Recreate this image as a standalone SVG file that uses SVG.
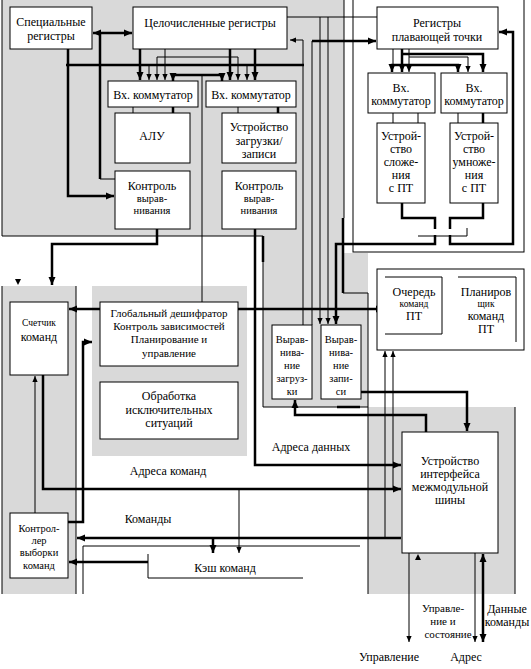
<svg xmlns="http://www.w3.org/2000/svg" width="531" height="669" viewBox="0 0 531 669" font-family="'Liberation Serif', 'Times New Roman', serif">
<style>
.gr{fill:#d9d9d9;stroke:none}
.bx{fill:#fff;stroke:#000;stroke-width:1}
.ln{fill:none;stroke:#000;stroke-width:1}
.tk{fill:none;stroke:#000;stroke-width:2.5}
.ar{marker-end:url(#at)}
.as{marker-start:url(#at)}
.tk.ar{marker-end:url(#ah)}
.tk.as{marker-start:url(#ah)}
text{font-family:"Liberation Serif","Times New Roman",serif;font-size:12px;fill:#000;text-anchor:middle}
.s{font-size:10.5px}
.xs{font-size:9.5px}
.m{font-size:11px}
</style>
<defs>
<marker id="ah" viewBox="0 0 8 8" refX="8" refY="4" markerWidth="8" markerHeight="8" markerUnits="userSpaceOnUse" orient="auto-start-reverse"><path d="M0,0.5 L8,4 L0,7.5 z" fill="#000"/></marker>
<marker id="at" viewBox="0 0 8 8" refX="8" refY="4" markerWidth="6" markerHeight="6" markerUnits="userSpaceOnUse" orient="auto-start-reverse"><path d="M0,0.5 L8,4 L0,7.5 z" fill="#000"/></marker>
</defs>
<rect x="0" y="0" width="531" height="669" fill="#fff"/>
<g id="panels">
<rect class="gr" x="2" y="0" width="342" height="236"/>
<polygon class="gr" points="263,236 344,236 344,253 368,253 368,407 263,407"/>
<rect class="gr" x="2" y="286" width="74" height="308"/>
<rect class="gr" x="92" y="286" width="155" height="170"/>
<rect class="gr" x="368" y="407" width="147" height="187"/>
<rect class="bx" x="353" y="-1" width="171" height="253"/>
<path class="ln" d="M2,0 V236 H263 M344,0 V218 M2,286 V594 M76,286 V594 M515,407 V594 M263,262 V407 H368"/>
</g>
<g id="connectors">
<path class="ln" d="M100,179 H115"/>
<path class="ln ar" d="M303,325 V40 H290"/>
<path class="ln ar" d="M149,65 V80"/>
<path class="ln as ar" d="M157,80 V57 H238 V80"/>
<path class="ln ar" d="M165,49 V80"/>
<path class="ln" d="M202,75 V302"/>
<path class="ln ar" d="M247,65 V80"/>
<path class="ln" d="M133,107 V113 M238,107 V113"/>
<path class="ln" d="M287,17 H377"/>
<path class="ln ar" d="M320,17 V324"/>
<path class="ln ar" d="M328,17 V324"/>
<path class="ln" d="M312,41 V325"/>
<path class="ln" d="M393,49 V65"/>
<path class="ln ar" d="M409,49 V72"/>
<path class="ln ar" d="M409,57 H468 V72"/>
<path class="ln" d="M393,113 V123 M418,113 V123 M458,113 V123"/>
<path class="ln" d="M418,236 H467 V228"/>
<path class="ln" d="M343,293 H368 V594"/>
<path class="ln ar" d="M35,513 V376"/>
<path class="ln ar" d="M239,489 V553"/>
<path class="ln" d="M83,546 H360 M83,546 V594 M148,554 V578 H303"/>
<path class="ln ar" d="M385,538 V351"/>
<path class="ln ar" d="M393,488 V351"/>
<path class="ln ar" d="M409,553 V642"/>
<path class="ln ar" d="M475,553 V642"/>
<path class="tk as ar" d="M93,33 H132"/>
<path class="tk" d="M100,33 V179"/>
<path class="tk ar" d="M68,49 V196 H114"/>
<path class="tk" d="M66,65 H304"/>
<path class="tk ar" d="M140,49 V80"/>
<path class="tk as ar" d="M173,81 V75 H222 V81"/>
<path class="tk ar" d="M230,49 V80"/>
<path class="tk ar" d="M255,49 V80"/>
<path class="tk" d="M173,107 V113 M278,107 V113"/>
<path class="tk ar" d="M312,41 H376"/>
<path class="tk as ar" d="M392,72 V65 H458 V72"/>
<path class="tk ar" d="M402,49 V72"/>
<path class="tk ar" d="M402,54 H483 V72"/>
<path class="tk" d="M483,113 V123"/>
<path class="tk" d="M402,203 V218 H435 V229"/>
<path class="tk ar" d="M435,235 V244 H336 V324"/>
<path class="tk" d="M483,203 V218 H450 V229"/>
<path class="tk ar" d="M450,235 V244 H513 V32 H499"/>
<path class="tk" d="M343,218 V293"/>
<path class="tk ar" d="M157,229 V244 H52 V285"/>
<path class="tk ar" d="M255,229 V465 H401"/>
<path class="tk" d="M263,236 V262"/>
<path class="tk ar" d="M100,309 H69"/>
<path class="tk ar" d="M238,309 H384"/>
<path class="tk ar" d="M68,522 H83 V342 H92"/>
<path class="tk ar" d="M43,375 V489 H401"/>
<path class="tk ar" d="M401,538 H77"/>
<path class="tk ar" d="M213,538 V553"/>
<path class="tk ar" d="M148,562 H69"/>
<path class="tk ar" d="M426,432 V415 H295 V400"/>
<path class="tk ar" d="M361,392 H467 V431"/>
<path class="tk as ar" d="M443,309 H457"/>
<path class="tk as ar" d="M483,554 V642"/>
<path class="tk" d="M337,407 H360"/>
<polygon points="15,279 21,279 18,285" fill="#000"/>
<polygon points="415,560 421,560 418,554" fill="#000"/>
</g>
<g id="spec"><rect class="bx" x="10" y="7" width="82" height="42"/><text x="51" y="26">Специальные</text><text x="51" y="40">регистры</text></g>
<g id="intregs"><rect class="bx" x="133" y="7" width="154" height="42"/><text x="210" y="27">Целочисленные регистры</text></g>
<g id="mux1"><rect class="bx" x="108" y="81" width="90" height="26"/><text x="153" y="99">Вх. коммутатор</text></g>
<g id="mux2"><rect class="bx" x="206" y="81" width="90" height="26"/><text x="251" y="99">Вх. коммутатор</text></g>
<g id="alu"><rect class="bx" x="115" y="113" width="75" height="50"/><text x="152" y="140">АЛУ</text></g>
<g id="lsu"><rect class="bx" x="222" y="113" width="74" height="50"/><text x="259" y="131">Устройство</text><text x="259" y="145">загрузки/</text><text x="259" y="158">записи</text></g>
<g id="align1"><rect class="bx" x="115" y="171" width="75" height="58"/><text x="152" y="190">Контроль</text><text class="s" x="152" y="202">вырав-</text><text class="s" x="152" y="214">нивания</text></g>
<g id="align2"><rect class="bx" x="222" y="171" width="74" height="58"/><text x="259" y="190">Контроль</text><text class="s" x="259" y="202">вырав-</text><text class="s" x="259" y="214">нивания</text></g>
<g id="fpregs"><rect class="bx" x="377" y="7" width="121" height="42"/><text x="437" y="27">Регистры</text><text x="437" y="41">плавающей точки</text></g>
<g id="fpmux1"><rect class="bx" x="368" y="73" width="67" height="40"/><text x="401" y="92">Вх.</text><text x="401" y="105">коммутатор</text></g>
<g id="fpmux2"><rect class="bx" x="441" y="73" width="66" height="40"/><text x="474" y="92">Вх.</text><text x="474" y="105">коммутатор</text></g>
<g id="fpadd"><rect class="bx" x="377" y="123" width="48" height="80"/><text x="401" y="140">Устрой-</text><text x="401" y="153">ство</text><text x="401" y="166">сложе-</text><text x="401" y="179">ния</text><text x="401" y="192">с ПТ</text></g>
<g id="fpmul"><rect class="bx" x="450" y="123" width="48" height="80"/><text x="474" y="140">Устрой-</text><text x="474" y="153">ство</text><text x="474" y="166">умноже-</text><text x="474" y="179">ния</text><text x="474" y="192">с ПТ</text></g>
<g id="pc"><rect class="bx" x="10" y="302" width="58" height="73"/><text class="xs" x="39" y="326">Счетчик</text><text x="39" y="341">команд</text></g>
<g id="gdec"><rect class="bx" x="100" y="302" width="138" height="64"/><text class="m" x="169" y="317">Глобальный дешифратор</text><text class="m" x="169" y="330">Контроль зависимостей</text><text class="m" x="169" y="343">Планирование и</text><text class="m" x="169" y="357">управление</text></g>
<g id="exc"><rect class="bx" x="100" y="382" width="138" height="57"/><text x="169" y="400">Обработка</text><text x="169" y="414">исключительных</text><text x="169" y="427">ситуаций</text></g>
<g id="ldalign"><rect class="bx" x="272" y="325" width="40" height="74"/><text class="s" x="292" y="343">Вырав-</text><text class="s" x="292" y="356">нива-</text><text class="s" x="292" y="369">ние</text><text class="s" x="292" y="382">загруз-</text><text class="s" x="292" y="395">ки</text></g>
<g id="stalign"><rect class="bx" x="321" y="325" width="40" height="74"/><text class="s" x="341" y="343">Вырав-</text><text class="s" x="341" y="356">нива-</text><text class="s" x="341" y="369">ние</text><text class="s" x="341" y="382">запи-</text><text class="s" x="341" y="395">си</text></g>
<g id="fpq"><rect class="bx" x="377" y="269" width="147" height="81"/><path class="ln" d="M385,277 H442 V334 H385 M458,277 H516 V342"/><text x="414" y="296">Очередь</text><text class="xs" x="414" y="307">команд</text><text x="414" y="320">ПТ</text><text x="486" y="296">Планиров</text><text class="xs" x="486" y="307">щик</text><text x="486" y="320">команд</text><text x="486" y="333">ПТ</text></g>
<g id="biu"><rect class="bx" x="402" y="432" width="96" height="121"/><text x="450" y="465">Устройство</text><text x="450" y="478">интерфейса</text><text x="450" y="491">межмодульной</text><text x="450" y="504">шины</text></g>
<g id="ifc"><rect class="bx" x="10" y="513" width="58" height="65"/><text class="s" x="39" y="532">Контрол-</text><text class="s" x="39" y="544">лер</text><text class="s" x="39" y="556">выборки</text><text class="s" x="39" y="569">команд</text></g>
<g id="icache"><text x="225" y="572">Кэш команд</text></g>
<g id="labels">
<text x="168" y="475">Адреса команд</text>
<text x="148" y="523">Команды</text>
<text x="311" y="451">Адреса данных</text>
<text class="m" x="443" y="612">Управле-</text>
<text class="m" x="443" y="625">ние и</text>
<text class="m" x="448" y="638">состояние</text>
<text x="507" y="613">Данные</text>
<text x="507" y="626">команды</text>
<text x="389" y="661">Управление</text>
<text x="466" y="661">Адрес</text>
</g>
</svg>
